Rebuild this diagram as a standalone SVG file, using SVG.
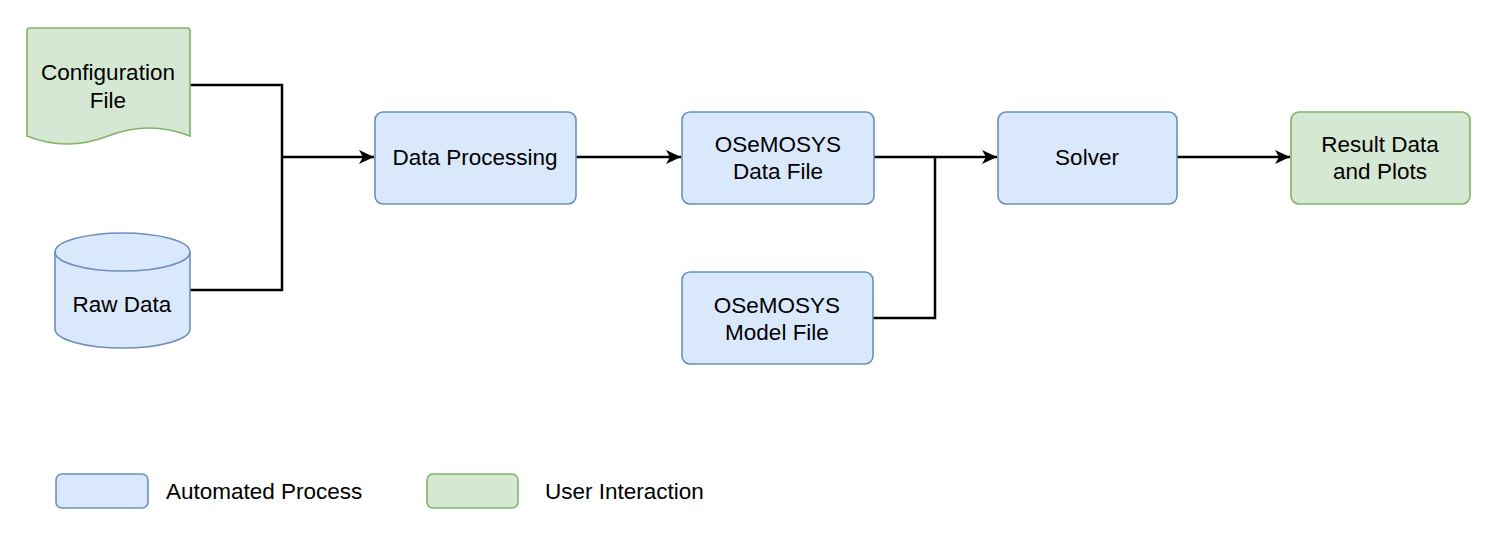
<svg xmlns="http://www.w3.org/2000/svg" width="1495" height="550" viewBox="0 0 1495 550">
<defs>
<style>
.blue{fill:#dae8fc;stroke:#6c8ebf;stroke-width:1.6}
.green{fill:#d5e8d4;stroke:#82b366;stroke-width:1.6}
.t{font-family:"Liberation Sans",Arial,sans-serif;font-size:22.5px;fill:#000;text-anchor:middle}
.tl{font-family:"Liberation Sans",Arial,sans-serif;font-size:22.5px;fill:#000;text-anchor:start}
.c{fill:none;stroke:#000;stroke-width:2.5}
</style>
<marker id="arr" markerUnits="userSpaceOnUse" markerWidth="16" markerHeight="14" viewBox="0 0 16 14" refX="15" refY="7" orient="auto">
<path d="M0,0 L15,7 L0,14 L4,7 Z" fill="#000"/>
</marker>
</defs>
<rect width="1495" height="550" fill="#fff"/>
<g id="connectors">
<path class="c" d="M190,85 H282 V290 H190"/>
<path class="c" d="M282,157 H374" marker-end="url(#arr)"/>
<path class="c" d="M576,157 H681" marker-end="url(#arr)"/>
<path class="c" d="M874,157 H997" marker-end="url(#arr)"/>
<path class="c" d="M873,318 H935 V157"/>
<path class="c" d="M1177,157 H1290" marker-end="url(#arr)"/>
</g>
<g id="config-file">
<path class="green" d="M30,28 H187 Q190,28 190,31 V136 Q149,120 108,136 Q67,152 27,136 V31 Q27,28 30,28 Z"/>
<text class="t" x="108" y="80">Configuration</text>
<text class="t" x="108" y="108">File</text>
</g>
<g id="raw-data">
<path class="blue" d="M55,252 A67.5,19 0 0 1 190,252 V329 A67.5,19 0 0 1 55,329 Z"/>
<path class="blue" style="fill:none" d="M55,252 A67.5,19 0 0 0 190,252"/>
<text class="t" x="122" y="312">Raw Data</text>
</g>
<g id="data-processing">
<rect class="blue" x="375" y="112" width="201" height="92" rx="8"/>
<text class="t" x="475" y="165">Data Processing</text>
</g>
<g id="osemosys-data-file">
<rect class="blue" x="682" y="112" width="192" height="92" rx="8"/>
<text class="t" x="778" y="152">OSeMOSYS</text>
<text class="t" x="778" y="179">Data File</text>
</g>
<g id="osemosys-model-file">
<rect class="blue" x="682" y="272" width="191" height="92" rx="8"/>
<text class="t" x="777" y="313">OSeMOSYS</text>
<text class="t" x="777" y="340">Model File</text>
</g>
<g id="solver">
<rect class="blue" x="998" y="112" width="179" height="92" rx="8"/>
<text class="t" x="1087" y="165">Solver</text>
</g>
<g id="result-data">
<rect class="green" x="1291" y="112" width="179" height="92" rx="8"/>
<text class="t" x="1380" y="152">Result Data</text>
<text class="t" x="1380" y="179">and Plots</text>
</g>
<g id="legend-automated">
<rect class="blue" x="56" y="474" width="92" height="34" rx="6"/>
<text class="tl" x="166" y="499">Automated Process</text>
</g>
<g id="legend-user">
<rect class="green" x="427" y="474" width="91" height="34" rx="6"/>
<text class="tl" x="545" y="499">User Interaction</text>
</g>
</svg>
